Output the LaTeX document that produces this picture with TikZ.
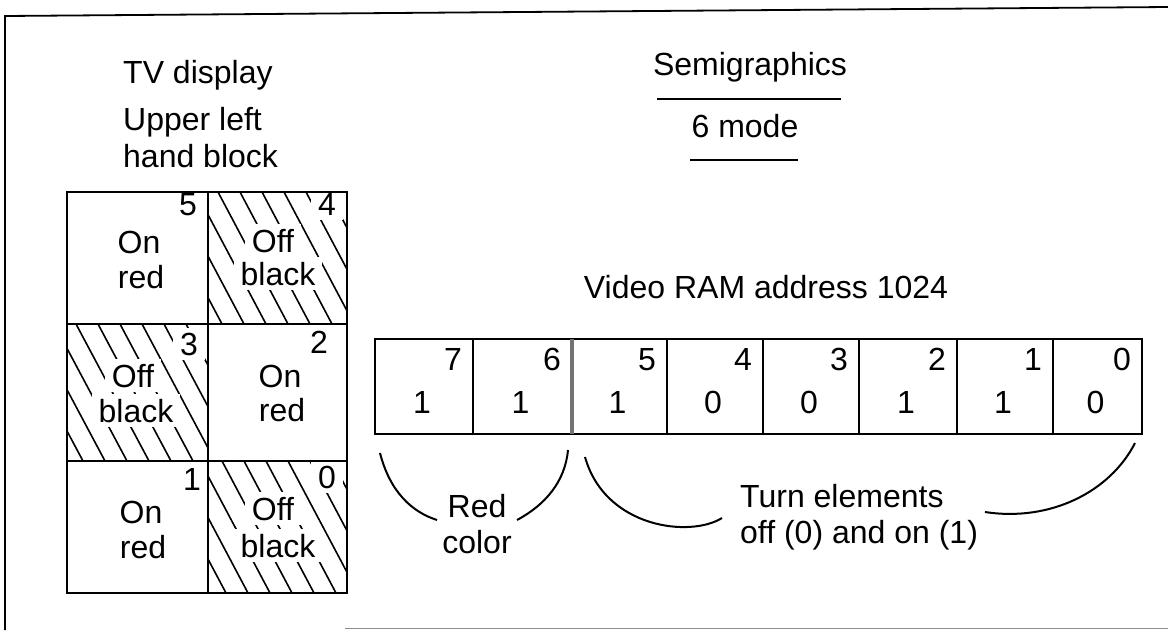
\documentclass[tikz,border=0pt]{standalone}
\usepackage{fontspec}
\setmainfont{Liberation Sans}
\begin{document}
\begin{tikzpicture}[x=1pt,y=-1pt,
  every node/.style={font=\fontsize{32}{36}\selectfont, inner sep=0pt},
  lbl/.style={anchor=base},
  lblw/.style={anchor=base, fill=white, inner xsep=7pt, inner ysep=5pt},
  lblwest/.style={anchor=base west},
  frameline/.style={line width=1.8pt},
  gridline/.style={line width=2.8pt},
  hatch/.style={line width=1.6pt},
  brace/.style={line width=2pt}]
\useasboundingbox (0,0) rectangle (1168,630);

% outer frame
\draw[frameline] (5,630) -- (5,16) -- (1168,7);
\draw[line width=1pt, black!45] (345,628) -- (1168,628);

% titles
\node[lblwest] (tv) at (123,83) {TV display};
\node[lblwest] (ul) at (123,130) {Upper left};
\node[lblwest] (hb) at (123,167) {hand block};
\node[lbl] (semi) at (750,75) {Semigraphics};
\draw[line width=2.5pt] (657,99) -- (841,99);
\node[lbl] (mode) at (745,137) {6 mode};
\draw[line width=2.5pt] (690,160) -- (798,160);

% hatching of the "off" cells
\begin{scope}
  \clip (208,192) rectangle (347,324);
  \foreach \x in {130,152,...,360} \draw[hatch] (\x,192) -- ++(70,132);
\end{scope}
\begin{scope}
  \clip (67,324) rectangle (208,461);
  \foreach \x in {-12,10,...,220} \draw[hatch] (\x,324) -- ++(73,137);
\end{scope}
\begin{scope}
  \clip (208,461) rectangle (347,593);
  \foreach \x in {134,156,...,360} \draw[hatch] (\x,461) -- ++(70,132);
\end{scope}

% cell labels (white knock-out in hatched cells)
% cell 5
\node[lbl] (n5) at (188,215) {5};
\node[lbl] (t5a) at (139,253) {On};
\node[lbl] (t5b) at (141,288) {red};
% cell 4
\node[lblw] (n4) at (327,215) {4};
\node[lblw] (t4a) at (273,252) {Off};
\node[lblw] (t4b) at (278,285) {black};
% cell 3
\node[lblw] (n3) at (189,355) {3};
\node[lblw] (t3a) at (133,387) {Off};
\node[lblw] (t3b) at (136,422) {black};
% cell 2
\node[lbl] (n2) at (319,353) {2};
\node[lbl] (t2a) at (280,387) {On};
\node[lbl] (t2b) at (282,421) {red};
% cell 1
\node[lbl] (n1) at (192,490) {1};
\node[lbl] (t1a) at (141,523) {On};
\node[lbl] (t1b) at (143,558) {red};
% cell 0
\node[lblw] (n0) at (327,488) {0};
\node[lblw] (t0a) at (273,520) {Off};
\node[lblw] (t0b) at (278,557) {black};

% TV block grid
\draw[gridline] (67,192) rectangle (347,593);
\draw[gridline] (208,192) -- (208,593);
\draw[gridline] (67,324) -- (347,324);
\draw[gridline] (67,461) -- (347,461);

% Video RAM register
\node[lbl] (vram) at (766,298) {Video RAM address 1024};
\draw[gridline] (375,339) rectangle (1142,434);
\foreach \x in {473,667,763,859,957,1053} \draw[gridline] (\x,339) -- (\x,434);
\draw[line width=3.5pt, black!55] (572,339) -- (572,434);

\foreach \l/\r/\i/\v in {375/473/7/1, 473/572/6/1, 572/667/5/1, 667/763/4/0,
                         763/859/3/0, 859/957/2/1, 957/1053/1/1, 1053/1142/0/0} {
  \node[anchor=base east] (idx\i) at (\r-11,370) {\i};
  \node[lbl] (val\i) at ({(\l+\r)/2-2},413) {\v};
}

% braces
\node[lbl] (red) at (477,517) {Red};
\node[lbl] (color) at (477,553) {color};
\coordinate (ra) at (380,453);
\coordinate (rb) at (437,520);
\coordinate (rc) at (517,520);
\coordinate (rd) at (568,450);
\draw[brace] (ra) .. controls (390,492) and (412,512) .. (rb);
\draw[brace] (rc) .. controls (545,505) and (565,482) .. (rd);

\node[lblwest] (turn) at (740,507) {Turn elements};
\node[lblwest] (offon) at (740,543) {off (0) and on (1)};
\coordinate (ta) at (585,457);
\coordinate (tb) at (722,518);
\coordinate (tc) at (985,512);
\coordinate (td) at (1135,443);
\draw[brace] (ta) .. controls (605,528) and (690,538) .. (tb);
\draw[brace] (tc) .. controls (1050,522) and (1110,492) .. (td);
\end{tikzpicture}
\end{document}
